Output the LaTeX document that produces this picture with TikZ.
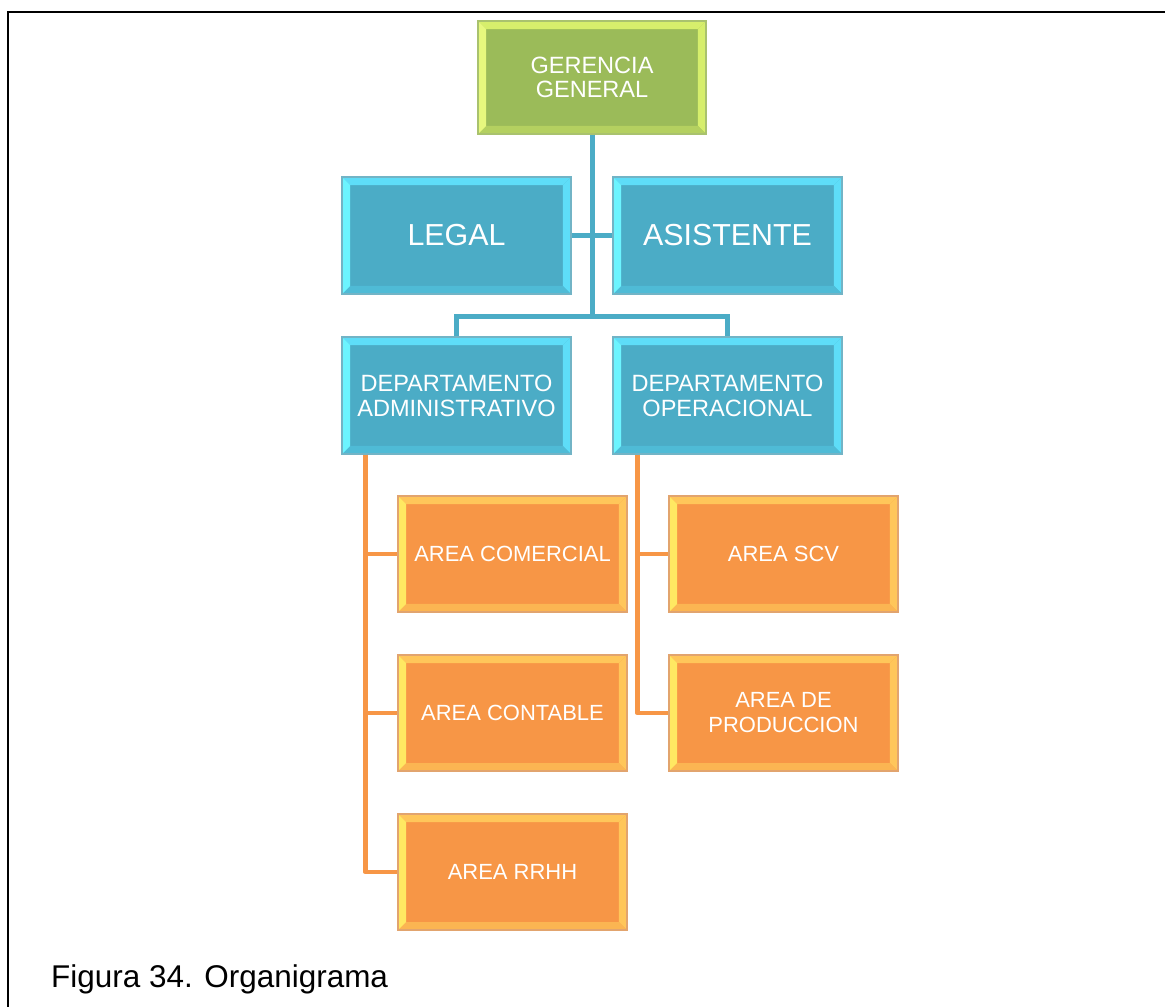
\documentclass[tikz,border=0pt]{standalone}
\usepackage{fontspec}
\setmainfont{Liberation Sans}
\usetikzlibrary{calc}

\definecolor{tealmain}{HTML}{4BACC6}
\definecolor{teallight}{HTML}{5EDDF8}
\definecolor{tealleft}{HTML}{6CF4FF}
\definecolor{tealdark}{HTML}{4FBBD6}
\definecolor{tealedge}{HTML}{72B4C6}
\definecolor{greenmain}{HTML}{9BBB59}
\definecolor{greenlight}{HTML}{D6EE6C}
\definecolor{greenleft}{HTML}{E6F87E}
\definecolor{greendark}{HTML}{B4D060}
\definecolor{greenedge}{HTML}{A9C26E}
\definecolor{orangemain}{HTML}{F79646}
\definecolor{orangelight}{HTML}{FFC65A}
\definecolor{orangeleft}{HTML}{FFE862}
\definecolor{orangedark}{HTML}{FBB552}
\definecolor{orangeedge}{HTML}{E2A46E}

\def\bevw{0.16cm}
% bevel bands: top and right, left, bottom
\newcommand{\bevelframe}[3]{%
  \path (path picture bounding box.north west) coordinate (bnw)
        (path picture bounding box.south east) coordinate (bse)
        (bse |- bnw) coordinate (bne) (bnw |- bse) coordinate (bsw);
  \fill[#1] (bnw) -- (bne) -- ([shift={(-\bevw,-\bevw)}]bne) -- ([shift={(\bevw,-\bevw)}]bnw) -- cycle;
  \fill[#1] (bne) -- ([shift={(-\bevw,-\bevw)}]bne) -- ([shift={(-\bevw,\bevw)}]bse) -- (bse) -- cycle;
  \fill[#3] (bsw) -- ([shift={(\bevw,\bevw)}]bsw) -- ([shift={(-\bevw,\bevw)}]bse) -- (bse) -- cycle;
  \fill[#2] (bnw) -- ([shift={(\bevw,-\bevw)}]bnw) -- ([shift={(\bevw,\bevw)}]bsw) -- (bsw) -- cycle;
}

\begin{document}
\begin{tikzpicture}[x=0.02cm,y=-0.02cm,
    unit/.style={rectangle,inner sep=0pt,align=center,text=white,line width=0.7pt,
      minimum width=4.58cm,minimum height=2.34cm,font=\fontsize{13.4}{14.2}\selectfont},
    topbox/.style={unit,fill=greenmain,draw=greenedge,minimum width=4.56cm,minimum height=2.26cm,
      font=\fontsize{13.4}{13.6}\selectfont,path picture={\bevelframe{greenlight}{greenleft}{greendark}}},
    deptbox/.style={unit,fill=tealmain,draw=tealedge,path picture={\bevelframe{teallight}{tealleft}{tealdark}}},
    areabox/.style={unit,fill=orangemain,draw=orangeedge,minimum height=2.32cm,
      font=\fontsize{12.5}{14.2}\selectfont,path picture={\bevelframe{orangelight}{orangeleft}{orangedark}}},
    tealline/.style={draw=tealmain,line width=0.1cm},
    orangeline/.style={draw=orangemain,line width=0.095cm,line join=round}]
  % page with the cut frame
  \path[use as bounding box,fill=white] (0,0) rectangle (1165,1007);
  \draw[line width=0.045cm] (1165,12) -- (8,12) -- (8,1007);

  % boxes
  \node[topbox] (gg) at (592,77.5) {GERENCIA\\GENERAL};
  \node[deptbox,font=\fontsize{17.3}{18}\selectfont] (legal) at (456.5,235.5) {LEGAL};
  \node[deptbox,font=\fontsize{17.3}{18}\selectfont] (asist) at (727.5,235.5) {ASISTENTE};
  \node[deptbox] (dadm) at (456.5,395.5) {DEPARTAMENTO\\ADMINISTRATIVO};
  \node[deptbox] (dop) at (727.5,395.5) {DEPARTAMENTO\\OPERACIONAL};
  \foreach \nm/\xx/\yy/\txt in {acom/512.5/554/AREA COMERCIAL, acon/512.5/713/AREA CONTABLE,
      arrhh/512.5/872/AREA RRHH, ascv/783.5/554/AREA SCV, aprod/783.5/713/{AREA DE\\PRODUCCION}}
    \node[areabox] (\nm) at (\xx,\yy) {\txt};

  % teal connectors
  \coordinate (bus) at (592,316);
  \draw[tealline] (gg.south) -- (bus);
  \draw[tealline] (legal.east) -- (asist.west);
  \draw[tealline] (dadm.north) |- (bus) -| (dop.north);

  % orange connectors
  \coordinate (admtrunk) at ($(dadm.south west)+(24,0)$);
  \coordinate (optrunk) at ($(dop.south west)+(25,0)$);
  \foreach \nm in {acom,acon,arrhh}
    \draw[orangeline] (admtrunk) |- (\nm.west);
  \foreach \nm in {ascv,aprod}
    \draw[orangeline] (optrunk) |- (\nm.west);

  % caption
  \node[anchor=base west,font=\fontsize{17.9}{20}\selectfont] (caption) at (45,987) {Figura 34. Organigrama};
\end{tikzpicture}
\end{document}
